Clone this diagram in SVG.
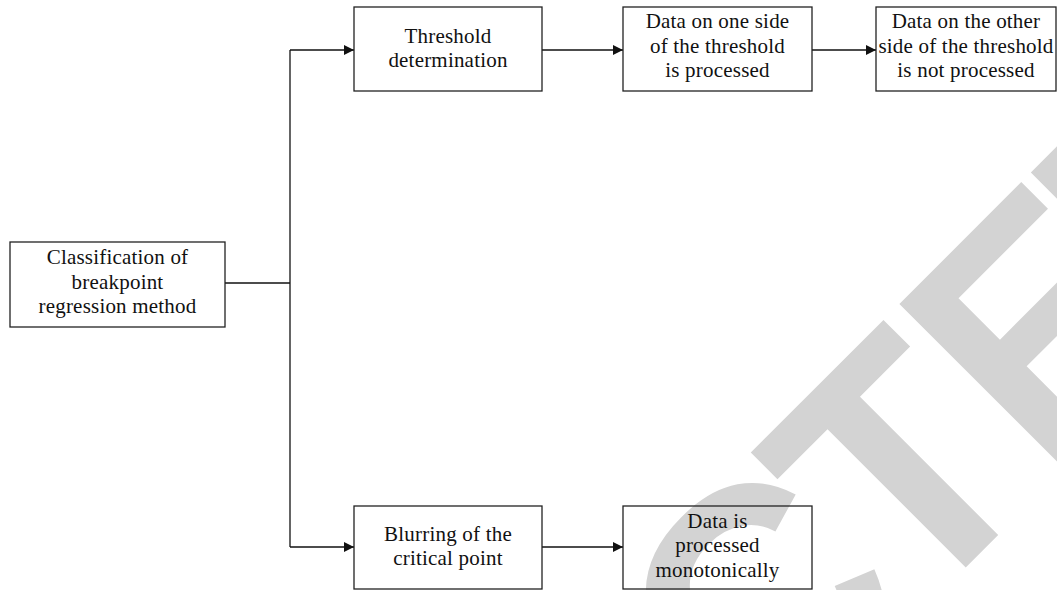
<svg xmlns="http://www.w3.org/2000/svg" width="1057" height="590" viewBox="0 0 1057 590">
  <style>
    .box { fill: none; stroke: #222; stroke-width: 1.3; }
    .lbl { font-family: "Liberation Serif", "Times New Roman", serif; font-size: 21px; letter-spacing: 0.2px; fill: #111; text-anchor: middle; }
    .conn { fill: none; stroke: #111; stroke-width: 1.3; }
    .wm { font-family: "Liberation Sans", Arial, sans-serif; font-weight: bold; font-size: 339px; fill: #d3d3d3; }
  </style>
  <defs>
    <marker id="arr" markerUnits="userSpaceOnUse" markerWidth="10" markerHeight="10" viewBox="0 0 10 10" refX="10" refY="5" orient="auto">
      <path d="M0,0 L10,5 L0,10 Z" fill="#111"/>
    </marker>
  </defs>
  <rect width="1057" height="590" fill="#fff"/>
  <text class="wm" transform="translate(766.6,766.6) rotate(-45) scale(0.94,1)" x="-1176.4 -931.6 -705.5 -498.4 -253.6 -6 220.5 425.2 623" y="0">RETRACTED</text>

  <g id="connectors">
    <path class="conn" d="M225,283 H290"/>
    <path class="conn" d="M290,50 V547"/>
    <path class="conn" d="M290,50 H354" marker-end="url(#arr)"/>
    <path class="conn" d="M290,547 H354" marker-end="url(#arr)"/>
    <path class="conn" d="M542,50 H623" marker-end="url(#arr)"/>
    <path class="conn" d="M812,50 H876" marker-end="url(#arr)"/>
    <path class="conn" d="M542,547 H623" marker-end="url(#arr)"/>
  </g>

  <g id="node-classification">
    <rect class="box" x="10" y="242" width="215" height="85"/>
    <text class="lbl" x="117.5" y="264">Classification of</text>
    <text class="lbl" x="117.5" y="289">breakpoint</text>
    <text class="lbl" x="117.5" y="313">regression method</text>
  </g>
  <g id="node-threshold">
    <rect class="box" x="354" y="7" width="188" height="84"/>
    <text class="lbl" x="448" y="43">Threshold</text>
    <text class="lbl" x="448" y="67">determination</text>
  </g>
  <g id="node-one-side">
    <rect class="box" x="623" y="7" width="189" height="84"/>
    <text class="lbl" x="717.5" y="28">Data on one side</text>
    <text class="lbl" x="717.5" y="53">of the threshold</text>
    <text class="lbl" x="717.5" y="77">is processed</text>
  </g>
  <g id="node-other-side">
    <rect class="box" x="876" y="7" width="180" height="84"/>
    <text class="lbl" x="966" y="28">Data on the other</text>
    <text class="lbl" x="966" y="53">side of the threshold</text>
    <text class="lbl" x="966" y="77">is not processed</text>
  </g>
  <g id="node-blurring">
    <rect class="box" x="354" y="506" width="188" height="83"/>
    <text class="lbl" x="448" y="541">Blurring of the</text>
    <text class="lbl" x="448" y="565">critical point</text>
  </g>
  <g id="node-monotonic">
    <rect class="box" x="623" y="506" width="189" height="83"/>
    <text class="lbl" x="717.5" y="528">Data is</text>
    <text class="lbl" x="717.5" y="552">processed</text>
    <text class="lbl" x="717.5" y="577">monotonically</text>
  </g>
</svg>
